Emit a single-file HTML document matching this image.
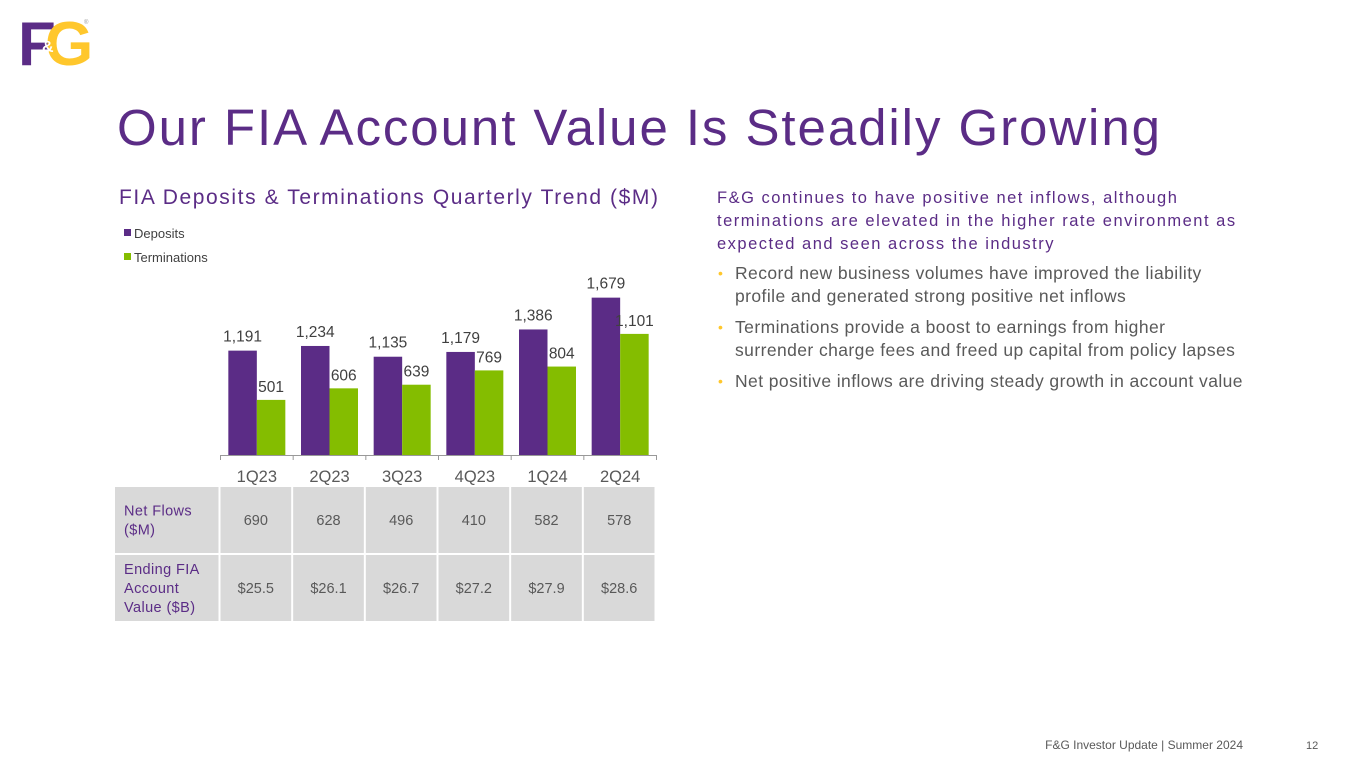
<!DOCTYPE html>
<html><head><meta charset="utf-8"><style>
html,body{margin:0;padding:0;background:#fff;}
svg{display:block;font-family:"Liberation Sans",Arial,sans-serif;}
</style></head><body>
<svg id="page" width="1365" height="768" viewBox="0 0 1365 768">
<g>
  <text x="18" y="65" font-size="62" font-weight="bold" fill="#5B2C86">F</text>
  <text x="45" y="65" font-size="62" font-weight="bold" fill="#FFC72C">G</text>
  <text x="42" y="52" font-size="16" font-weight="bold" fill="#fff">&amp;</text>
  <text x="84" y="24" font-size="6" fill="#999">®</text>
</g>
<text x="117" y="145" font-size="51" fill="#5B2C86" textLength="1043" lengthAdjust="spacing">Our FIA Account Value Is Steadily Growing</text>
<text x="119" y="204" font-size="21" fill="#5B2C86" textLength="539" lengthAdjust="spacing">FIA Deposits &amp; Terminations Quarterly Trend ($M)</text>
<g>
  <g><rect x="124" y="229" width="7" height="7" fill="#5B2C86"/><text x="134" y="238" font-size="13" fill="#404040">Deposits</text></g>
  <g><rect x="124" y="253" width="7" height="7" fill="#84BD00"/><text x="134" y="262" font-size="13" fill="#404040">Terminations</text></g>
</g>
<g id="chart"></g>
<g id="table"></g>
<g font-size="16.5">
  <g fill="#5B2C86" letter-spacing="1.5">
    <text x="717" y="203">F&amp;G continues to have positive net inflows, although</text>
    <text x="717" y="226">terminations are elevated in the higher rate environment as</text>
    <text x="717" y="249">expected and seen across the industry</text>
  </g>
  <g fill="#FFC72C" font-size="14"><text x="718" y="278">•</text><text x="718" y="332">•</text><text x="718" y="386">•</text></g>
  <g fill="#595959" font-size="17.5" letter-spacing="0.42">
    <text x="735" y="279">Record new business volumes have improved the liability</text>
    <text x="735" y="302">profile and generated strong positive net inflows</text>
    <text x="735" y="333">Terminations provide a boost to earnings from higher</text>
    <text x="735" y="356">surrender charge fees and freed up capital from policy lapses</text>
    <text x="735" y="387">Net positive inflows are driving steady growth in account value</text>
  </g>
</g>
<text x="1243" y="749" font-size="12" fill="#595959" text-anchor="end">F&amp;G Investor Update | Summer 2024</text>
<text x="1306" y="749" font-size="11" fill="#595959">12</text>
</svg>
<script>
const categories = ["1Q23","2Q23","3Q23","4Q23","1Q24","2Q24"];
const deposits = [1191,1234,1135,1179,1386,1679];
const terminations = [501,606,639,769,804,1101];
const depositLabels = ["1,191","1,234","1,135","1,179","1,386","1,679"];
const terminationLabels = ["501","606","639","769","804","1,101"];
const netFlows = ["690","628","496","410","582","578"];
const accountValues = ["$25.5","$26.1","$26.7","$27.2","$27.9","$28.6"];

const NS = "http://www.w3.org/2000/svg";
const x0 = 220.5, x1 = 656.5, base = 455;
const step = (x1 - x0) / categories.length;
const bw = 28.5;
function xCenter(i){ return x0 + (i + 0.5) * step; }
function yDep(v){ return base - (v - 230) * 0.1086; }
function yTerm(v){ return base - v * 0.11; }
function mk(tag, attrs, parent){ const e = document.createElementNS(NS, tag); for (const k in attrs) e.setAttribute(k, attrs[k]); parent.appendChild(e); return e; }

const chart = document.getElementById("chart");
categories.forEach((c, i) => {
  const cx = xCenter(i);
  const yd = yDep(deposits[i]);
  const b1 = mk("rect", {x: cx - bw, y: yd, width: bw, height: base - yd, fill: "#5B2C86"}, chart);
  
  
  const yt = yTerm(terminations[i]);
  const b2 = mk("rect", {x: cx, y: yt, width: bw, height: base - yt, fill: "#84BD00"}, chart);
  
  
  const l1 = mk("text", {x: cx - bw/2, y: yd - 9, "font-size": 15.5, fill: "#404040", "text-anchor": "middle"}, chart);
  l1.textContent = depositLabels[i];
  
  
  const l2 = mk("text", {x: cx + bw/2, y: yt - 8, "font-size": 15.5, fill: "#404040", "text-anchor": "middle"}, chart);
  l2.textContent = terminationLabels[i];
  
  
  const t = mk("text", {x: cx, y: 482, "font-size": 16.5, fill: "#595959", "text-anchor": "middle"}, chart);
  t.textContent = c;
  
  
});
const ax = mk("line", {x1: x0, y1: base + 0.5, x2: x1, y2: base + 0.5, stroke: "#999", "stroke-width": 1}, chart);


for (let i = 0; i <= categories.length; i++) {
  const tk = mk("line", {x1: x0 + i*step, y1: base, x2: x0 + i*step, y2: base + 5, stroke: "#999"}, chart);
  
  
}

const table = document.getElementById("table");
const rows = [
  {top: 487, h: 66, label: ["Net Flows", "($M)"], vals: netFlows, name: "net-flows-row"},
  {top: 555, h: 66, label: ["Ending FIA", "Account", "Value ($B)"], vals: accountValues, name: "account-value-row"}
];
rows.forEach(r => {
  const lc = mk("rect", {x: 115, y: r.top, width: x0 - 115 - 2, height: r.h, fill: "#D9D9D9"}, table);
  
  
  const n = r.label.length, lh = 19;
  r.label.forEach((s, k) => {
    const tt = mk("text", {x: 124, y: r.top + r.h/2 + (k - (n-1)/2) * lh + 5, "font-size": 14.5, fill: "#5B2C86", "letter-spacing": "0.4"}, table);
    tt.textContent = s;
  });
  r.vals.forEach((v, i) => {
    const cx = xCenter(i);
    const c = mk("rect", {x: cx - step/2, y: r.top, width: step - 2, height: r.h, fill: "#D9D9D9"}, table);
    
    
    const tt = mk("text", {x: cx - 1, y: r.top + r.h/2 + 5, "font-size": 14.5, fill: "#595959", "text-anchor": "middle"}, table);
    tt.textContent = v;
  });
});
</script>
</body></html>
